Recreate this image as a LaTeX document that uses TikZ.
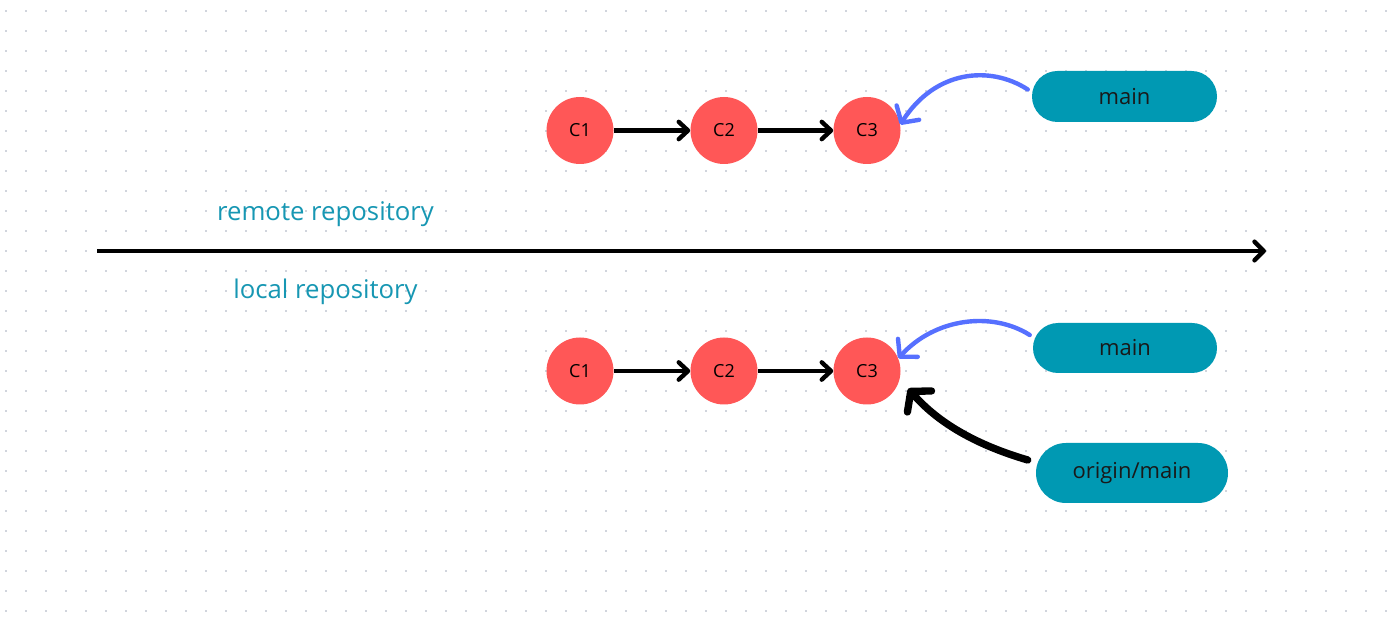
\documentclass[tikz,border=0pt]{standalone}
\usepackage{fontspec}
\setmainfont{Open Sans}
\usetikzlibrary{arrows.meta,shapes.misc}
\definecolor{dotc}{HTML}{D0D4DC}
\definecolor{commitred}{HTML}{FF5757}
\definecolor{pillc}{HTML}{0099B3}
\definecolor{labelc}{HTML}{1797B3}
\definecolor{bluearr}{HTML}{5670FF}
\begin{document}
\begin{tikzpicture}[x=0.75pt,y=-0.75pt,
  commit/.style={circle,fill=commitred,minimum size=50.25pt,inner sep=0pt,font=\fontsize{13.5}{15}\selectfont},
  pill/.style={rounded rectangle,fill=pillc,inner sep=0pt,font=\fontsize{16.5}{19}\selectfont,text=black!90},
  replabel/.style={text=labelc,font=\fontsize{19.3}{22}\selectfont},
  carr/.style={draw=black,line width=3.3pt,-{Straight Barb[length=7pt,width=13pt,round]}},
  axarr/.style={draw=black,line width=3.3pt,-{Straight Barb[length=7pt,width=14pt,round]}},
  barr/.style={draw=bluearr,line width=3.3pt,line cap=round,-{Straight Barb[length=9pt,width=20pt,round]}},
  karr/.style={draw=black,line width=5.5pt,line cap=round,-{Straight Barb[length=10pt,width=24pt,round]}}]
\useasboundingbox (0,0) rectangle (1393,623);
\fill[white] (0,0) rectangle (1393,623);
\foreach \i in {0,...,69}{
  \foreach \j in {0,...,30}{
    \fill[dotc] (5+20*\i,10+20*\j) rectangle ++(2,2);
  }
}
% remote
\node[commit] (c1) at (580,130.5) {C1};
\node[commit] (c2) at (724,130.5) {C2};
\node[commit] (c3) at (867,130.5) {C3};
\draw[carr] (c1) -- (c2);
\draw[carr] (c2) -- (c3);
\node[pill,minimum width=138.75pt,minimum height=38.25pt] (pm1) at (1124.5,96.5) {main};
\draw[barr] ([shift={(-4,-7)}]pm1.west) .. controls (990,65) and (935,70) .. (c3.10);
% axis
\node[replabel] (rr) at (325.5,214.5) {remote repository};
\node[replabel] (lr) at (325.5,291.5) {local repository};
\coordinate (axL) at (97,251);
\coordinate (axR) at (1266,251);
\draw[axarr] (axL) -- (axR);
% local
\node[commit] (d1) at (580,371) {C1};
\node[commit] (d2) at (724,371) {C2};
\node[commit] (d3) at (867,371) {C3};
\draw[carr] (d1) -- (d2);
\draw[carr] (d2) -- (d3);
\node[pill,minimum width=138pt,minimum height=37.5pt] (pm2) at (1125,348) {main};
\draw[barr] ([shift={(-3,-13)}]pm2.west) .. controls (992,311) and (935,318) .. (d3.22);
\node[pill,minimum width=144pt,minimum height=45pt] (po) at (1132,473) {origin/main};
\draw[karr] ([shift={(-8,-13)}]po.west) .. controls (980,446) and (940,425) .. ([shift={(10,5)}]d3.-22);
\end{tikzpicture}
\end{document}
